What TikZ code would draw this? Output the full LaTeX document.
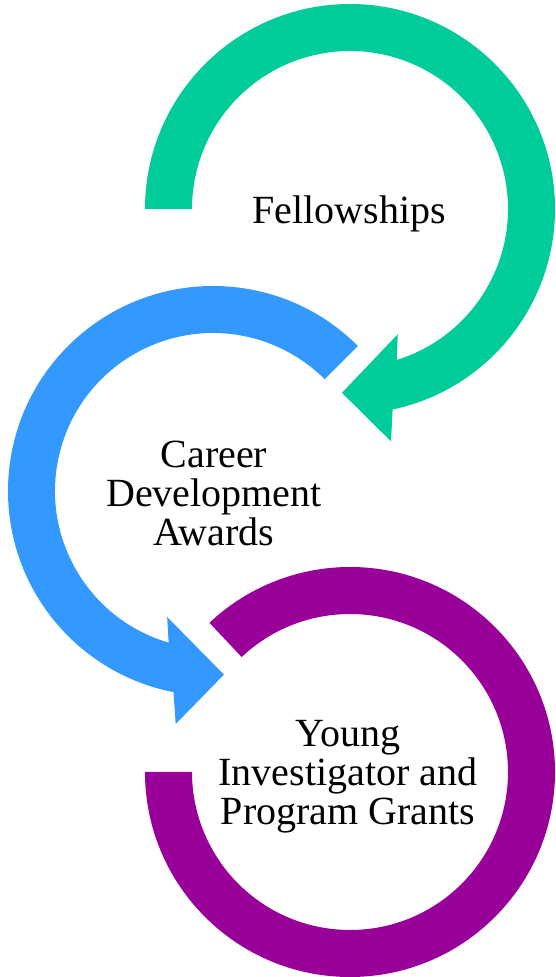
\documentclass[tikz,border=0pt]{standalone}
\usepackage{fontspec}
\setmainfont{Liberation Serif}
\usepackage{tikz}
\usetikzlibrary{positioning}

\definecolor{fellowgreen}{HTML}{00CC99}
\definecolor{careerblue}{HTML}{3399FF}
\definecolor{grantpurple}{HTML}{990099}

\begin{document}
\begin{tikzpicture}[x=1pt, y=1pt,
    ringtext/.style={align=center, inner sep=0pt, font=\fontsize{40}{39}\selectfont}]
            \useasboundingbox (0,0) rectangle (555,977);

            % Fellowships (top ring, runs clockwise, head points left)
            \begin{scope}[shift={(350,768)}]
                \fill[fellowgreen] (180:205) arc[start angle=180, end angle=-78, radius=205]
                    -- (-80:236) -- (-92.5:184) -- (-69.1:134) -- (-72.8:158)
                    arc[start angle=-72.8, end angle=180, radius=158] -- cycle;
            \end{scope}

            % Career Development Awards (middle ring, runs counter-clockwise)
            \begin{scope}[shift={(213,486)}]
                \fill[careerblue] (45:205) arc[start angle=45, end angle=258.9, radius=205]
                    -- (260.9:236) -- (273.4:184) -- (250:134) -- (253.7:158)
                    arc[start angle=253.7, end angle=45, radius=158] -- cycle;
            \end{scope}

            % Young Investigator (bottom ring, no head)
            \begin{scope}[shift={(350,205)}]
                \fill[grantpurple] (180:205) arc[start angle=180, end angle=493.3, radius=205]
                    -- (493.3:158) arc[start angle=493.3, end angle=180, radius=158] -- cycle;
            \end{scope}

            % Labels
            \node[ringtext, anchor=base] (fellow) at (349,753) {Fellowships};
            \node[ringtext] (career) at (214,484) {Career\\Development\\Awards};
            \node[ringtext] (young) at (348,200) {Young\\Investigator and\\Program Grants};
      \end{tikzpicture}
\end{document}
